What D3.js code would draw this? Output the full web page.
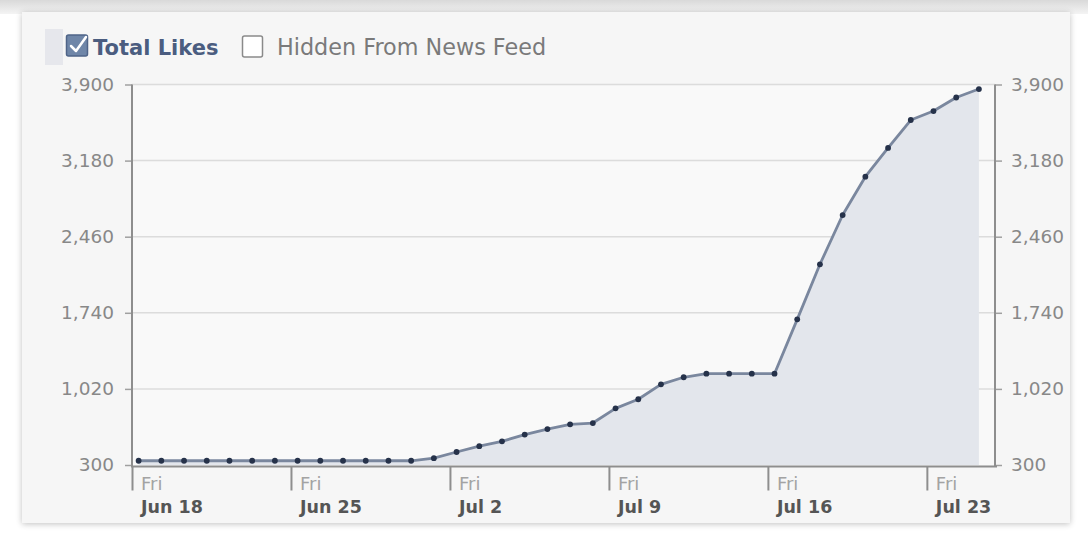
<!DOCTYPE html>
<html><head><meta charset="utf-8">
<script src="https://cdn.jsdelivr.net/npm/d3@7"></script>
<style>body{margin:0;background:#fff}svg{display:block}</style>
</head><body>
<svg id="c" width="1088" height="545"></svg>
<script>
// ---- data ----
const dates = ["2010-06-18","2010-06-19","2010-06-20","2010-06-21","2010-06-22","2010-06-23","2010-06-24","2010-06-25","2010-06-26","2010-06-27","2010-06-28","2010-06-29","2010-06-30","2010-07-01","2010-07-02","2010-07-03","2010-07-04","2010-07-05","2010-07-06","2010-07-07","2010-07-08","2010-07-09","2010-07-10","2010-07-11","2010-07-12","2010-07-13","2010-07-14","2010-07-15","2010-07-16","2010-07-17","2010-07-18","2010-07-19","2010-07-20","2010-07-21","2010-07-22","2010-07-23","2010-07-24","2010-07-25"];
const totalLikes = [340,340,340,340,340,340,340,340,340,340,340,340,340,365,423,478,524,588,640,685,697,836,922,1063,1130,1164,1164,1164,1164,1678,2199,2665,3028,3300,3564,3649,3777,3857];
const yTicks = [300,1020,1740,2460,3180,3900];
const xTickDates = ["2010-06-18","2010-06-25","2010-07-02","2010-07-09","2010-07-16","2010-07-23"];
const xDomain = ["2010-06-18","2010-07-26"];
const legendLabels = ["Total Likes","Hidden From News Feed"];

// ---- layout ----
const svg = d3.select("#c");
const parse = d3.utcParse("%Y-%m-%d");
const L = 132, R = 995, T = 84.5, B = 465;
const FONT = "'DejaVu Sans', Verdana, sans-serif";

const x = d3.scaleUtc().domain(xDomain.map(parse)).range([L, R]);
const y = d3.scaleLinear().domain([300, 3900]).range([B, T]);
const ptTime = d => d3.utcHour.offset(parse(d), 7);
const pts = dates.map((d, i) => ({t: ptTime(d), v: totalLikes[i]}));

// page / card
const defs = svg.append("defs");
const g1 = defs.append("linearGradient").attr("id","topg").attr("x1",0).attr("y1",0).attr("x2",0).attr("y2",1);
g1.append("stop").attr("offset",0).attr("stop-color","#d9d9d9");
g1.append("stop").attr("offset",1).attr("stop-color","#f4f4f4");
svg.append("rect").attr("x",0).attr("y",0).attr("width",1088).attr("height",14).attr("fill","url(#topg)");
const flt = defs.append("filter").attr("id","sh").attr("x","-5%").attr("y","-5%").attr("width","110%").attr("height","110%");
flt.append("feGaussianBlur").attr("in","SourceAlpha").attr("stdDeviation",3);
flt.append("feOffset").attr("dx",0).attr("dy",1).attr("result","b");
flt.append("feComponentTransfer").append("feFuncA").attr("type","linear").attr("slope",0.25);
const fm = flt.append("feMerge"); fm.append("feMergeNode"); fm.append("feMergeNode").attr("in","SourceGraphic");
svg.append("rect").attr("x",22).attr("y",12).attr("width",1048).attr("height",511)
  .attr("fill","#f6f6f6").attr("filter","url(#sh)");
svg.append("rect").attr("x",45).attr("y",29).attr("width",18).attr("height",36).attr("fill","#e6e7ec");

// plot background
svg.append("rect").attr("x",L).attr("y",T).attr("width",R-L).attr("height",B-T).attr("fill","#f9f9f9");

// gridlines
svg.append("g").selectAll("line").data(yTicks.slice(1)).join("line")
  .attr("x1",L).attr("x2",R).attr("y1",d=>y(d)).attr("y2",d=>y(d))
  .attr("stroke","#dcdcdc").attr("stroke-width",1.5);

// area + line
const area = d3.area().x(d=>x(d.t)).y0(B).y1(d=>y(d.v));
svg.append("path").datum(pts).attr("d",area).attr("fill","#e3e6ec");
const line = d3.line().x(d=>x(d.t)).y(d=>y(d.v));
svg.append("path").datum(pts).attr("d",line).attr("fill","none")
  .attr("stroke","#7a879e").attr("stroke-width",2.8).attr("stroke-linejoin","round");
svg.append("g").selectAll("circle").data(pts).join("circle")
  .attr("cx",d=>x(d.t)).attr("cy",d=>y(d.v)).attr("r",2.9).attr("fill","#26324a");

// axes
const axisCol = "#8e8e8e";
const yl = svg.append("g").attr("transform",`translate(${L},0)`)
  .call(d3.axisLeft(y).tickValues(yTicks).tickFormat(d3.format(",")).tickSize(7).tickPadding(11));
const yr = svg.append("g").attr("transform",`translate(${R},0)`)
  .call(d3.axisRight(y).tickValues(yTicks).tickFormat(d3.format(",")).tickSize(7).tickPadding(9));
[yl, yr].forEach(a => {
  a.select(".domain").remove();
  a.selectAll("line").attr("stroke","#a0a0a0").attr("stroke-width",1.5);
  a.selectAll("text").attr("fill","#888").attr("font-family",FONT).attr("font-size",18.5);
});
svg.append("line").attr("x1",L).attr("x2",L).attr("y1",T).attr("y2",B+2).attr("stroke",axisCol).attr("stroke-width",2);
svg.append("line").attr("x1",R).attr("x2",R).attr("y1",T).attr("y2",B+2).attr("stroke",axisCol).attr("stroke-width",2);
svg.append("line").attr("x1",L-1).attr("x2",R+2).attr("y1",B+1.5).attr("y2",B+1.5).attr("stroke",axisCol).attr("stroke-width",2.2);

// x axis
const xa = svg.append("g").attr("transform",`translate(0,${B+1.5})`)
  .call(d3.axisBottom(x).tickValues(xTickDates.map(parse)).tickSize(24).tickFormat(""));
xa.select(".domain").remove();
xa.selectAll("line").attr("stroke",axisCol).attr("stroke-width",2);
const xl = svg.append("g").selectAll("g").data(xTickDates.map(parse)).join("g")
  .attr("transform",d=>`translate(${x(d)+9},0)`);
xl.append("text").attr("y",490).text(d3.utcFormat("%a"))
  .attr("fill","#a3a3a3").attr("font-family",FONT).attr("font-size",18);
xl.append("text").attr("y",513).text(d3.utcFormat("%b %-d"))
  .attr("fill","#555").attr("font-family",FONT).attr("font-size",17.5).attr("font-weight","bold");

// legend
const lg = svg.append("g");
lg.append("rect").attr("x",66.5).attr("y",35).attr("width",21).attr("height",21).attr("rx",2)
  .attr("fill","#6f86a8").attr("stroke","#4f6488").attr("stroke-width",1.5);
lg.append("path").attr("d","M71,46 L76,51 L86,37").attr("fill","none").attr("stroke","#fff").attr("stroke-width",2.5)
  .attr("stroke-linecap","round").attr("stroke-linejoin","round");
lg.append("text").attr("x",93).attr("y",55).text(legendLabels[0])
  .attr("fill","#4b5d80").attr("font-family",FONT).attr("font-size",21).attr("font-weight","bold");
lg.append("rect").attr("x",242.5).attr("y",36).attr("width",20).attr("height",21).attr("rx",2)
  .attr("fill","#fff").attr("stroke","#8a8a8a").attr("stroke-width",1.5);
lg.append("text").attr("x",277).attr("y",55).text(legendLabels[1])
  .attr("fill","#7a7a7a").attr("font-family",FONT).attr("font-size",22.3);
</script>
</body></html>
